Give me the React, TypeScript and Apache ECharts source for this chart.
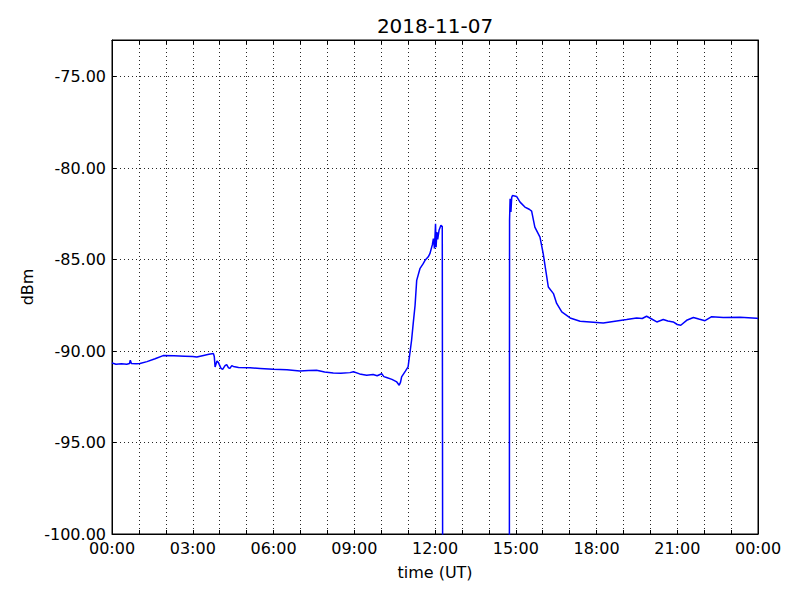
import React, { useEffect, useRef } from "react";
import * as echarts from "echarts";

// time of day in hours (UT)
const hours: number[] = [
  0.0, 0.15, 0.35, 0.55, 0.65, 0.68, 0.72, 0.9, 1.04, 1.3, 1.6, 1.9, 2.3, 2.7, 3.0, 3.15, 3.4, 3.6, 3.77, 3.8,
  3.83, 3.9, 3.95, 4.05, 4.11, 4.2, 4.26, 4.33, 4.38, 4.45, 4.51, 4.7, 5.13, 5.5, 5.99, 6.5, 6.98, 7.3, 7.6, 7.9,
  8.22, 8.5, 8.84, 8.97, 9.2, 9.46, 9.7, 9.85, 10.02, 10.1, 10.2, 10.4, 10.58, 10.67, 10.72, 10.76, 10.9, 11.0,
  11.13, 11.19, 11.26, 11.32, 11.44, 11.55, 11.63, 11.75, 11.81, 11.9, 11.94, 11.98, 12.02, 12.04, 12.07, 12.1,
  12.15, 12.22, 12.27, 12.29, 14.76, 14.77, 14.79, 14.82, 14.85, 14.88, 15.03, 15.16, 15.34, 15.5, 15.59, 15.71,
  15.9, 16.02, 16.21, 16.4, 16.52, 16.71, 17.02, 17.39, 17.76, 18.25, 18.75, 19.12, 19.49, 19.7, 19.86, 20.05,
  20.24, 20.48, 20.65, 20.85, 21.0, 21.13, 21.35, 21.6, 21.8, 22.03, 22.28, 22.71, 23.33, 23.95, 24.0,
];

// received signal (dBm); -110 marks the drop-out below the plotted range
const dbm: number[] = [
  -90.65, -90.72, -90.7, -90.72, -90.68, -90.5, -90.68, -90.7, -90.68, -90.58, -90.42, -90.25, -90.26, -90.28,
  -90.3, -90.33, -90.24, -90.18, -90.14, -90.3, -90.87, -90.55, -90.62, -90.95, -91.0, -90.8, -90.74, -90.92,
  -90.95, -90.8, -90.84, -90.9, -90.92, -90.95, -90.99, -91.02, -91.09, -91.06, -91.05, -91.15, -91.2, -91.22,
  -91.18, -91.13, -91.25, -91.32, -91.28, -91.35, -91.24, -91.4, -91.45, -91.55, -91.69, -91.87, -91.7, -91.41,
  -91.1, -90.87, -89.41, -88.5, -87.5, -86.14, -85.5, -85.25, -85.04, -84.85, -84.68, -84.2, -83.86, -84.4,
  -83.04, -84.32, -83.5, -83.9, -83.4, -83.13, -83.2, -110, -110, -82.86, -81.68, -82.4, -81.6, -81.5, -81.55,
  -81.86, -82.13, -82.25, -82.35, -83.23, -83.77, -84.68, -86.5, -86.86, -87.4, -87.86, -88.19, -88.37, -88.41,
  -88.47, -88.36, -88.28, -88.19, -88.22, -88.1, -88.25, -88.41, -88.28, -88.36, -88.41, -88.55, -88.59, -88.32,
  -88.17, -88.25, -88.34, -88.12, -88.17, -88.15, -88.21, -88.22,
];

const chartTitle = "2018-11-07";
const yName = "dBm";
const xName = "time (UT)";

const FONT = "DejaVu Sans";

const fmtHour = (v: number) => {
  const h = Math.round(v) % 24;
  return (h < 10 ? "0" : "") + h + ":00";
};

export default function App() {
  const ref = useRef<HTMLDivElement>(null);
  useEffect(() => {
    if (!ref.current) return;
    const chart = echarts.init(ref.current, null, { renderer: "svg" });
    const dotted = { color: "#000", width: 1, type: [1, 3] as any, opacity: 0.85 };
    const tickStyle = { color: "#000", width: 1 };
    chart.setOption({
      animation: false,
      backgroundColor: "#fff",
      graphic: [
        {
          type: "text",
          x: 435,
          y: 26,
          style: {
            text: chartTitle,
            fontFamily: FONT,
            fontSize: 20,
            fill: "#000",
            align: "center",
            verticalAlign: "middle",
          },
        },
        {
          type: "text",
          x: 27,
          y: 287,
          rotation: Math.PI / 2,
          style: {
            text: yName,
            fontFamily: FONT,
            fontSize: 16,
            fill: "#000",
            align: "center",
            verticalAlign: "middle",
          },
        },
        {
          type: "text",
          x: 435,
          y: 572,
          style: {
            text: xName,
            fontFamily: FONT,
            fontSize: 16,
            fill: "#000",
            align: "center",
            verticalAlign: "middle",
          },
        },
      ],
      grid: {
        left: 112,
        right: 42,
        top: 40,
        bottom: 66,
        show: true,
        borderColor: "#000",
        borderWidth: 1,
        backgroundColor: "transparent",
      },
      xAxis: [
        {
          type: "value",
          min: 0,
          max: 24,
          interval: 3,
          axisLine: { show: true, onZero: false, lineStyle: { color: "#000", width: 1 } },
          axisTick: { show: true, inside: true, length: 4, lineStyle: tickStyle },
          minorTick: { show: true, splitNumber: 3, length: 4, lineStyle: tickStyle },
          splitLine: { show: true, lineStyle: dotted },
          minorSplitLine: { show: true, lineStyle: dotted },
          axisLabel: {
            fontFamily: FONT,
            fontSize: 16,
            color: "#000",
            margin: 6,
            formatter: (v: number) => fmtHour(v),
          },
        },
        {
          type: "value",
          position: "top",
          min: 0,
          max: 24,
          interval: 3,
          axisLine: { show: true, onZero: false, lineStyle: { color: "#000", width: 1 } },
          axisTick: { show: true, inside: true, length: 4, lineStyle: tickStyle },
          minorTick: { show: true, splitNumber: 3, length: 4, lineStyle: tickStyle },
          splitLine: { show: false },
          axisLabel: { show: false },
        },
      ],
      yAxis: [
        {
          type: "value",
          min: -100,
          max: -73,
          interval: 5,
          axisLine: { show: true, onZero: false, lineStyle: { color: "#000", width: 1 } },
          axisTick: { show: true, inside: true, length: 4, lineStyle: tickStyle },
          splitLine: { show: true, lineStyle: dotted },
          axisLabel: {
            fontFamily: FONT,
            fontSize: 16,
            color: "#000",
            margin: 6,
            showMaxLabel: false,
            formatter: (v: number) => (v > -74 ? "" : v.toFixed(2)),
          },
        },
        {
          type: "value",
          position: "right",
          min: -100,
          max: -73,
          interval: 5,
          axisLine: { show: true, onZero: false, lineStyle: { color: "#000", width: 1 } },
          axisTick: { show: true, inside: true, length: 4, lineStyle: tickStyle },
          splitLine: { show: false },
          axisLabel: { show: false },
        },
      ],
      series: [
        {
          type: "line",
          xAxisIndex: 0,
          yAxisIndex: 0,
          data: hours.map((h, i) => [h, dbm[i]]),
          showSymbol: false,
          symbol: "none",
          clip: true,
          lineStyle: { color: "#0000ff", width: 1.5 },
        },
      ],
    });
    return () => chart.dispose();
  }, []);
  return <div ref={ref} style={{ width: 800, height: 600, position: "fixed", left: 0, top: 0 }} />;
}
